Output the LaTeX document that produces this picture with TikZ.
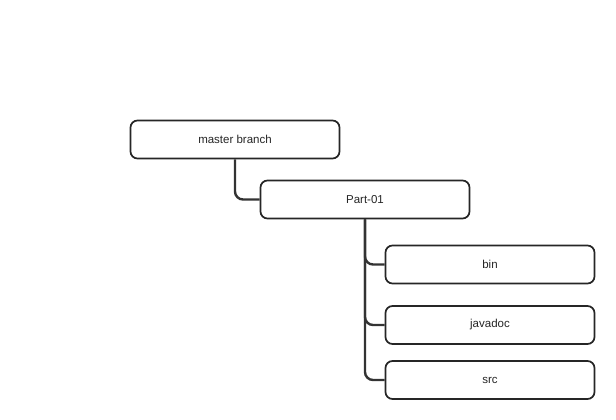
\documentclass[tikz,border=0pt]{standalone}
\usepackage{fontspec}
\setmainfont{Liberation Sans}
\usepackage{xcolor}

\begin{document}
\begin{tikzpicture}[x=1pt,y=-1pt,
  folder/.style={draw=black!85,line width=1.7pt,rounded corners=7pt,fill=white,
    minimum width=209pt,minimum height=38pt,text=black!85,font=\fontsize{11.5}{13}\selectfont},
  link/.style={draw=black!80,line width=2.4pt,rounded corners=8pt}]
\useasboundingbox (0,0) rectangle (616,420);
\node[folder] (master) at (235,139.5) {master branch};
\node[folder] (part) at (365,199.5) {Part-01};
\node[folder] (bin) at (490,264.5) {bin};
\node[folder] (javadoc) at (490,325) {javadoc};
\node[folder] (src) at (490,380) {src};
\draw[link] (master.south) |- (part.west);
\draw[link] (part.south) |- (bin.west);
\draw[link] (part.south) |- (javadoc.west);
\draw[link] (part.south) |- (src.west);
\end{tikzpicture}
\end{document}
